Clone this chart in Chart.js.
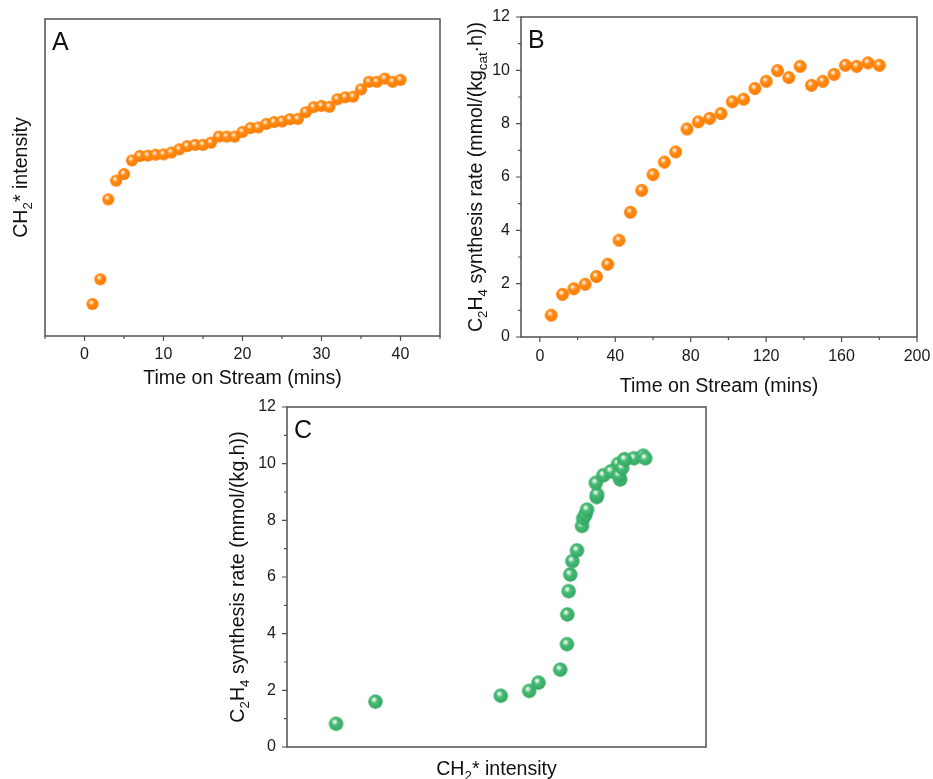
<!DOCTYPE html>
<html>
<head>
<meta charset="utf-8">
<script src="https://cdn.jsdelivr.net/npm/chart.js@4.4.1/dist/chart.umd.min.js"></script>
<style>
body{margin:0;background:#fff;width:933px;height:779px;position:relative;overflow:hidden}
canvas{position:absolute}
</style>
</head>
<body>
<canvas id="grapA" width="460" height="390" style="left:0;top:0"></canvas>
<canvas id="grapB" width="473" height="400" style="left:460px;top:0"></canvas>
<canvas id="grapC" width="500" height="389" style="left:220px;top:390px"></canvas>
<script>
// panel A: CH2* intensity vs time on stream (arbitrary units)
var tiempoA=[1,2,3,4,5,6,7,8,9,10,11,12,13,14,15,16,17,18,19,20,21,22,23,24,25,26,27,28,29,30,31,32,33,34,35,36,37,38,39,40];
var ch2A=[10.1,17.9,43.1,49.0,51.1,55.4,56.8,56.9,57.2,57.3,57.9,58.9,59.9,60.3,60.3,61.0,62.9,62.9,62.9,64.4,65.6,65.8,66.9,67.5,67.7,68.4,68.5,70.6,72.2,72.6,72.3,74.7,75.3,75.5,77.8,80.2,80.2,81.2,80.2,80.8];

// panel B: C2H4 synthesis rate vs time on stream
var tiempoB=[6,12,18,24,30,36,42,48,54,60,66,72,78,84,90,96,102,108,114,120,126,132,138,144,150,156,162,168,174,180];
var tasaB=[0.82,1.60,1.81,1.98,2.27,2.73,3.63,4.68,5.50,6.09,6.56,6.94,7.80,8.07,8.20,8.38,8.82,8.92,9.32,9.59,9.99,9.73,10.15,9.44,9.59,9.85,10.19,10.15,10.28,10.19];

// panel C: rate vs CH2* intensity (same runs as B)
var ch2C=[11.7,21.1,51.0,57.8,60.0,65.2,66.8,66.9,67.2,67.6,68.1,69.2,70.4,70.7,71.2,71.6,73.9,74.0,73.7,75.5,79.0,77.3,80.5,79.5,79.2,80.0,82.8,80.6,85.0,85.5];
var tasaC=tasaB;

var ticksAx=[0,10,20,30,40];
var ticksBx=[0,40,80,120,160,200];
var ticksTasa=[0,2,4,6,8,10,12];

var FUENTE="'Liberation Sans', Arial, sans-serif";

function bola(r,colores){
	var c=document.createElement('canvas');
	var n=Math.ceil(r*2+2);
	c.width=n;c.height=n;
	var ctx=c.getContext('2d');
	var m=n/2;
	var g=ctx.createRadialGradient(m-r*0.22,m-r*0.32,0,m-r*0.1,m-r*0.1,r*1.15);
	g.addColorStop(0,'#ffffff');
	g.addColorStop(0.15,colores[0]);
	g.addColorStop(0.4,colores[1]);
	g.addColorStop(0.85,colores[2]);
	g.addColorStop(1,colores[3]);
	ctx.fillStyle=g;
	ctx.beginPath();
	ctx.arc(m,m,r,0,Math.PI*2);
	ctx.fill();
	return c;
}
var naranja=['#ffdcb8','#ff8a14','#ff7f00','#e86f00'];
var verde=['#cdeed9','#48bb76','#36ad66','#2a9556'];

function puntos(xs,ys){
	var d=[];
	for(var i=0;i<xs.length;i++){d.push({x:xs[i],y:ys[i]});}
	return d;
}

function textoRico(ctx,partes,x,y,size,rot){
	ctx.save();
	ctx.translate(x,y);
	if(rot){ctx.rotate(-Math.PI/2);}
	var total=0;
	partes.forEach(function(p){
		ctx.font=(p.sub?size*0.68:size)+'px '+FUENTE;
		total+=ctx.measureText(p.t).width;
	});
	var cx=-total/2;
	ctx.textBaseline='alphabetic';
	ctx.textAlign='left';
	ctx.fillStyle='#111';
	partes.forEach(function(p){
		var s=p.sub?size*0.68:size;
		ctx.font=s+'px '+FUENTE;
		ctx.fillText(p.t,cx,size*0.36+(p.sub?size*0.24:0));
		cx+=ctx.measureText(p.t).width;
	});
	ctx.restore();
}

function rango(a,b,paso){
	var r=[];
	for(var v=a;v<=b+1e-9;v+=paso){r.push(v);}
	return r;
}

// frame, ticks, titles and letter drawn on top of each chart
function hacerMarco(cfg){
	return {
		id:'marco',
		afterDraw:function(chart){
			var ctx=chart.ctx,a=chart.chartArea;
			var sx=chart.scales.x,sy=chart.scales.y;
			ctx.save();
			ctx.strokeStyle='#505050';
			ctx.lineWidth=1.5;
			ctx.strokeRect(a.left,a.top,a.right-a.left,a.bottom-a.top);
			ctx.lineWidth=1.2;
			ctx.beginPath();
			(cfg.xMayor||[]).forEach(function(v){var p=sx.getPixelForValue(v);ctx.moveTo(p,a.bottom);ctx.lineTo(p,a.bottom+5);});
			(cfg.xMenor||[]).forEach(function(v){var p=sx.getPixelForValue(v);ctx.moveTo(p,a.bottom);ctx.lineTo(p,a.bottom+3);});
			(cfg.yMayor||[]).forEach(function(v){var p=sy.getPixelForValue(v);ctx.moveTo(a.left,p);ctx.lineTo(a.left-5,p);});
			(cfg.yMenor||[]).forEach(function(v){var p=sy.getPixelForValue(v);ctx.moveTo(a.left,p);ctx.lineTo(a.left-3,p);});
			ctx.stroke();
			ctx.fillStyle='#111';
			ctx.font='25px '+FUENTE;
			ctx.textBaseline='alphabetic';
			ctx.fillText(cfg.letra,a.left+7,a.top+31);
			ctx.restore();
			textoRico(ctx,cfg.xTitulo,(a.left+a.right)/2,cfg.xTituloY,19.6,false);
			textoRico(ctx,cfg.yTitulo,cfg.yTituloX,(a.top+a.bottom)/2,19.6,true);
		}
	};
}

// fixed box sizes, and no extra room for overhanging labels
function sinMargen(s){
	s.paddingLeft=0;s.paddingRight=0;s.paddingTop=0;s.paddingBottom=0;
}

function ejeX(min,max,lista,alto,pad,conEtiquetas){
	return {
		type:'linear',min:min,max:max,
		afterBuildTicks:function(s){s.ticks=lista.map(function(v){return {value:v};});},
		afterFit:function(s){s.height=alto;sinMargen(s);},
		grid:{display:false,drawTicks:false},
		border:{display:false},
		ticks:{display:conEtiquetas,padding:pad,maxRotation:0,autoSkip:false,color:'#1a1a1a',font:{family:FUENTE,size:16}}
	};
}
function ejeY(min,max,lista,ancho,conEtiquetas){
	return {
		type:'linear',min:min,max:max,
		afterBuildTicks:function(s){s.ticks=lista.map(function(v){return {value:v};});},
		afterFit:function(s){s.width=ancho;sinMargen(s);},
		grid:{display:false,drawTicks:false},
		border:{display:false},
		ticks:{display:conEtiquetas,padding:11,autoSkip:false,color:'#1a1a1a',font:{family:FUENTE,size:16}}
	};
}

function graficar(id,datos,img,escalas,pad,marco){
	return new Chart(document.getElementById(id),{
		type:'scatter',
		data:{datasets:[{data:datos,pointStyle:img,pointRadius:6,pointHoverRadius:6}]},
		options:{
			responsive:false,animation:false,devicePixelRatio:1,events:[],
			layout:{padding:pad},
			plugins:{legend:{display:false},tooltip:{enabled:false}},
			scales:escalas
		},
		plugins:[hacerMarco(marco)]
	});
}

var tituloTiempo=[{t:'Time on Stream (mins)'}];
var tituloCH2=[{t:'CH'},{t:'2',sub:true},{t:'* intensity'}];

graficar('grapA',puntos(tiempoA,ch2A),bola(6,naranja),
	{x:ejeX(-5,45,ticksAx,54,9,true),y:ejeY(0,100,[],45,false)},
	{top:19,right:20,left:0,bottom:0},
	{letra:'A',xMayor:ticksAx,xMenor:rango(-5,45,10),
	 xTitulo:tituloTiempo,xTituloY:377,yTitulo:tituloCH2,yTituloX:20});

graficar('grapB',puntos(tiempoB,tasaB),bola(6.4,naranja),
	{x:ejeX(-10,200,ticksBx,63,10,true),y:ejeY(0,12,ticksTasa,61,true)},
	{top:17,right:16,left:0,bottom:0},
	{letra:'B',xMayor:ticksBx,xMenor:rango(20,180,40),yMayor:ticksTasa,yMenor:rango(1,11,2),
	 xTitulo:tituloTiempo,xTituloY:385,
	 yTitulo:[{t:'C'},{t:'2',sub:true},{t:'H'},{t:'4',sub:true},{t:' synthesis rate (mmol/(kg'},{t:'cat',sub:true},{t:'\u00b7h))'}],yTituloX:15});

graficar('grapC',puntos(ch2C,tasaC),bola(7.2,verde),
	{x:ejeX(0,100,[],32,0,false),y:ejeY(0,12,ticksTasa,67,true)},
	{top:17,right:14,left:0,bottom:0},
	{letra:'C',yMayor:ticksTasa,yMenor:rango(1,11,2),
	 xTitulo:tituloCH2,xTituloY:378,
	 yTitulo:[{t:'C'},{t:'2',sub:true},{t:'H'},{t:'4',sub:true},{t:' synthesis rate (mmol/(kg.h))'}],yTituloX:17});
</script>
</body>
</html>
